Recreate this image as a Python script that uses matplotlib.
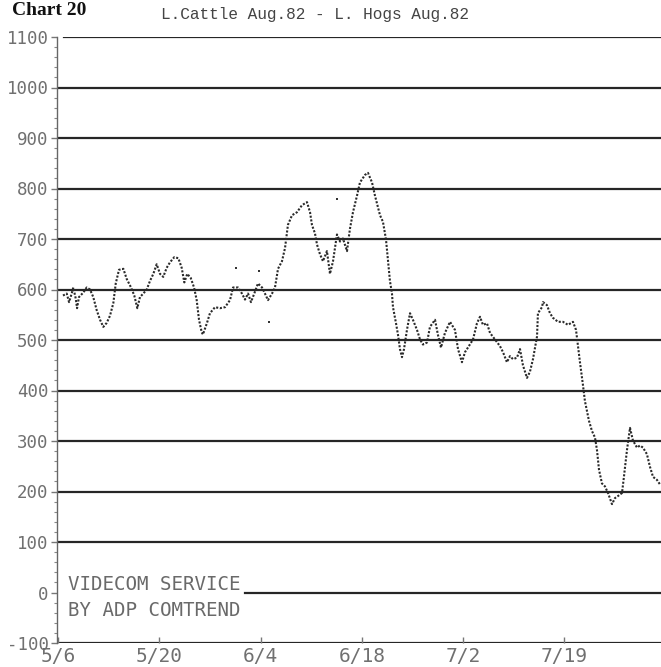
import matplotlib
matplotlib.use("Agg")
import matplotlib.pyplot as plt
from matplotlib.ticker import MultipleLocator

plt.rcParams["axes.unicode_minus"] = False

# ---- data (trading-day index, spread value) ----
days = [0.49, 0.86, 1.09, 1.35, 1.51, 1.75, 1.88, 2.07, 2.50, 2.83, 3.16, 3.48, 3.82,
        4.15, 4.47, 4.81, 5.13, 5.46, 5.70, 6.02, 6.45, 6.78, 7.21, 7.53, 7.83, 8.09,
        8.42, 8.76, 9.08, 9.41, 9.74, 10.07, 10.39, 10.73, 11.06, 11.48, 11.88, 12.21,
        12.47, 12.76, 13.10, 13.43, 13.69, 13.92, 14.19, 14.31, 14.71, 15.00, 15.50,
        15.99, 16.49, 16.98, 17.28, 17.77, 18.16, 18.46, 18.76, 19.05, 19.45, 19.74,
        20.14, 20.43, 20.73, 21.13, 21.42, 21.72, 22.11, 22.41, 22.70, 23.10, 23.59,
        24.09, 24.58, 24.88, 25.07, 25.37, 25.57, 25.86, 26.16, 26.55, 26.85, 27.15,
        27.54, 27.84, 28.13, 28.53, 28.82, 29.12, 29.52, 29.81, 30.31, 30.60, 31.00,
        31.29, 31.79, 32.08, 32.38, 32.58, 32.77, 32.97, 33.07, 33.37, 33.56, 33.76,
        33.96, 34.16, 34.45, 34.75, 35.04, 35.44, 35.74, 36.03, 36.43, 36.72, 37.22,
        37.51, 37.81, 38.20, 38.70, 39.19, 39.49, 39.88, 40.18, 40.47, 40.97, 41.36,
        41.66, 41.95, 42.35, 42.65, 43.14, 43.63, 43.93, 44.32, 44.62, 44.92, 45.31,
        45.61, 45.90, 46.30, 46.59, 46.89, 47.29, 47.38, 47.78, 47.88, 48.27, 48.57,
        48.86, 49.36, 49.85, 50.35, 50.84, 51.14, 51.33, 51.53, 51.83, 52.02, 52.22,
        52.42, 52.71, 53.01, 53.21, 53.41, 53.70, 54.00, 54.30, 54.69, 54.99, 55.28,
        55.68, 55.87, 56.17, 56.47, 56.76, 57.16, 57.45, 57.75, 58.14, 58.44, 58.74,
        59.13, 59.43]
spread = [588, 592, 575, 592, 604, 582, 563, 585, 594, 604, 600, 585, 559,
          540, 526, 534, 548, 573, 612, 639, 641, 621, 604, 588, 563, 585,
          592, 600, 617, 631, 650, 631, 625, 643, 654, 664, 662, 643,
          614, 631, 623, 604, 579, 540, 515, 511, 534, 553, 565,
          563, 565, 579, 604, 604, 592, 580, 592, 575, 596, 612,
          604, 592, 579, 592, 604, 641, 656, 682, 728, 747, 753,
          767, 773, 753, 728, 711, 689, 670, 656, 676, 631, 656,
          709, 695, 701, 676, 720, 753, 786, 812, 827, 831, 812,
          786, 747, 734, 699, 656, 617, 592, 565, 533, 511, 482,
          466, 482, 520, 553, 540, 520, 501, 491, 495, 526, 540,
          510, 485, 514, 536, 520, 482, 456, 476, 485, 501, 533,
          546, 530, 533, 514, 501, 488, 476, 456, 468, 462, 465,
          482, 450, 425, 437, 462, 507, 553, 565, 575, 569, 553,
          544, 536, 536, 530, 536, 520, 488, 456, 410, 379, 359,
          340, 320, 307, 282, 243, 216, 210, 197, 175, 187, 191,
          197, 229, 282, 326, 301, 287, 291, 287, 274, 249, 229,
          223, 214]
stray_days = [17.57, 19.84, 20.83, 27.54]
stray_vals = [643, 637, 536, 779]

tick_days = [0, 10, 20, 30, 40, 50]
tick_labels = ["5/6", "5/20", "6/4", "6/18", "7/2", "7/19"]
grid_levels = [-100, 0, 100, 200, 300, 400, 500, 600, 700, 800, 900, 1000, 1100]

W, H = 661, 667
fig = plt.figure(figsize=(W / 100, H / 100), dpi=100)
fig.patch.set_facecolor("white")
left, right = 57 / W, 1.0
bottom, top = 1 - 643 / H, 1 - 37 / H
ax = fig.add_axes([left, bottom, right - left, top - bottom])
ax.set_xlim(-0.1, 59.53)
ax.set_ylim(-100, 1100)

ink = "#262626"
for lv in grid_levels:
    if lv == 0:
        ax.axhline(lv, xmin=(245 - 57) / (W - 57), xmax=1, color=ink, lw=1.6, zorder=1)
    elif lv == 1100:
        ax.axhline(lv, xmin=(64 - 57) / (W - 57), xmax=1, color=ink, lw=1.6, zorder=1)
    else:
        ax.axhline(lv, color=ink, lw=1.6, zorder=1)

ax.plot(days, spread, color="#2a2a2a", lw=1.5, ls=(0, (1.0, 0.8)), zorder=3)
ax.scatter(stray_days, stray_vals, s=3, color="#333333", marker="s", lw=0, zorder=3)

for s in ["top", "right", "bottom"]:
    ax.spines[s].set_visible(False)
ax.spines["left"].set_color("#666666")
ax.spines["left"].set_linestyle((0, (1, 1)))
ax.spines["left"].set_linewidth(1.0)

mono = "DejaVu Sans Mono"
ax.yaxis.set_major_locator(MultipleLocator(100))
ax.yaxis.set_minor_locator(MultipleLocator(20))
ax.tick_params(axis="y", which="major", length=4, width=1, color="#777777",
               labelsize=12.5, labelcolor="#707070", pad=2)
ax.tick_params(axis="y", which="minor", length=2.5, width=0.8, color="#888888")
for lab in ax.get_yticklabels():
    lab.set_family(mono)

ax.set_xticks(tick_days)
ax.set_xticklabels(tick_labels, family=mono, fontsize=14, color="#707070")
ax.tick_params(axis="x", direction="in", length=4, width=1, color="#777777", pad=3)
for lab in ax.get_xticklabels():
    lab.set_horizontalalignment("center")

ax.text(68 / W, 1 - 585 / H, "VIDECOM SERVICE", transform=fig.transFigure,
        family=mono, fontsize=13.8, color="#6a6a6a", va="center", ha="left")
ax.text(68 / W, 1 - 610 / H, "BY ADP COMTREND", transform=fig.transFigure,
        family=mono, fontsize=13.8, color="#6a6a6a", va="center", ha="left")

fig.text(12 / W, 1 - 15 / H, "Chart 20", family="Liberation Serif", weight="bold",
         fontsize=14, color="#111111", va="baseline", ha="left")
fig.text(315 / W, 1 - 15 / H, "L.Cattle Aug.82 - L. Hogs Aug.82", family="Liberation Mono",
         fontsize=11.6, color="#444444", va="center", ha="center")

fig.savefig("out.png", dpi=100, facecolor="white")
